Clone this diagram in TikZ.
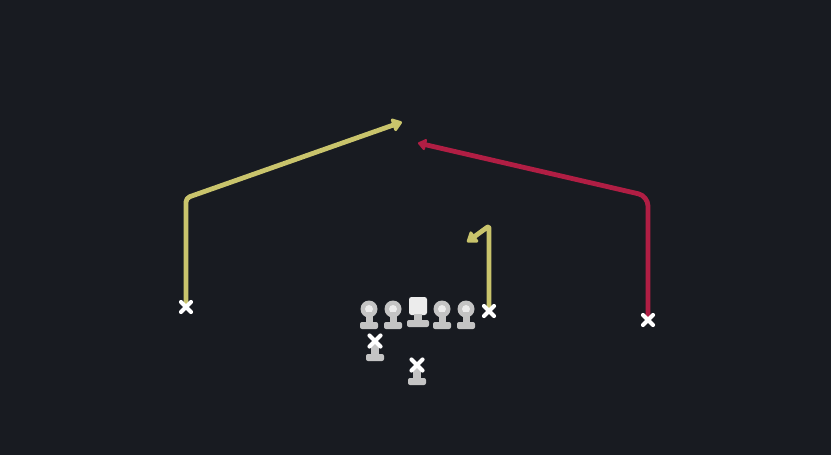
\documentclass[tikz,border=0pt]{standalone}
\usetikzlibrary{arrows.meta}
\definecolor{bg}{RGB}{24,27,33}
\definecolor{yel}{RGB}{201,196,108}
\definecolor{redr}{RGB}{176,30,68}
\definecolor{pc}{RGB}{196,196,196}
\definecolor{pw}{RGB}{236,236,236}
\tikzset{
  route/.style={line width=4.8pt, line join=round},
  yroute/.style={route, draw=yel, -{Triangle[width=15pt,length=11pt,round]}},
  rroute/.style={route, draw=redr, -{Triangle[width=13pt,length=9pt,round]}},
  xmark/.style={draw=white, line width=4.2pt, line cap=round},
  lineman/.pic={
    \fill[pc] (0,-15) circle (8.5);
    \fill[pw] (0,-15) circle (4);
    \fill[pc] (-3.5,-12) rectangle (3.5,1);
    \fill[pc, rounded corners=2pt] (-9,-2) rectangle (9,5);
  },
  centerman/.pic={
    \fill[pw, rounded corners=2.5pt] (-9,-26) rectangle (9,-8);
    \fill[pc] (-4,-9) rectangle (4,-2);
    \fill[pc, rounded corners=2pt] (-11,-3) rectangle (11,4);
  },
  backman/.pic={
    \fill[pc] (-4,-14) rectangle (4,-2);
    \draw[xmark] (-5.5,-22.5) -- (5.5,-11.5) (-5.5,-11.5) -- (5.5,-22.5);
    \fill[pc, rounded corners=2pt] (-9,-4) rectangle (9,3);
  },
  xpic/.pic={
    \draw[xmark] (-5,-5) -- (5,5) (-5,5) -- (5,-5);
  }
}
\begin{document}
\begin{tikzpicture}[x=1pt,y=-1pt]
\fill[bg] (0,0) rectangle (831,455);
\useasboundingbox (0,0) rectangle (831,455);
% receivers
\coordinate (wl) at (186,307);
\coordinate (wm) at (489,311);
\coordinate (wr) at (648,320);
\coordinate (wlc) at (186,198);
\coordinate (wlend) at (402,122);
\coordinate (wmc) at (489,226);
\coordinate (wmend) at (467,242);
\coordinate (wrc) at (648,196);
\coordinate (wrend) at (418,143);
% routes
\draw[yroute, rounded corners=4pt] (wl) -- (wlc) -- (wlend);
\draw[yroute, rounded corners=2pt] (wm) -- (wmc) -- (wmend);
\draw[rroute, rounded corners=10pt] (wr) -- (wrc) -- (wrend);
% X marks
\pic at (wl) {xpic};
\pic at (wm) {xpic};
\pic at (wr) {xpic};
% line
\pic at (369,324) {lineman};
\pic at (393,324) {lineman};
\pic at (418,323) {centerman};
\pic at (442,324) {lineman};
\pic at (466,324) {lineman};
% backs
\pic at (375,358) {backman};
\pic at (417,382) {backman};
\end{tikzpicture}
\end{document}
